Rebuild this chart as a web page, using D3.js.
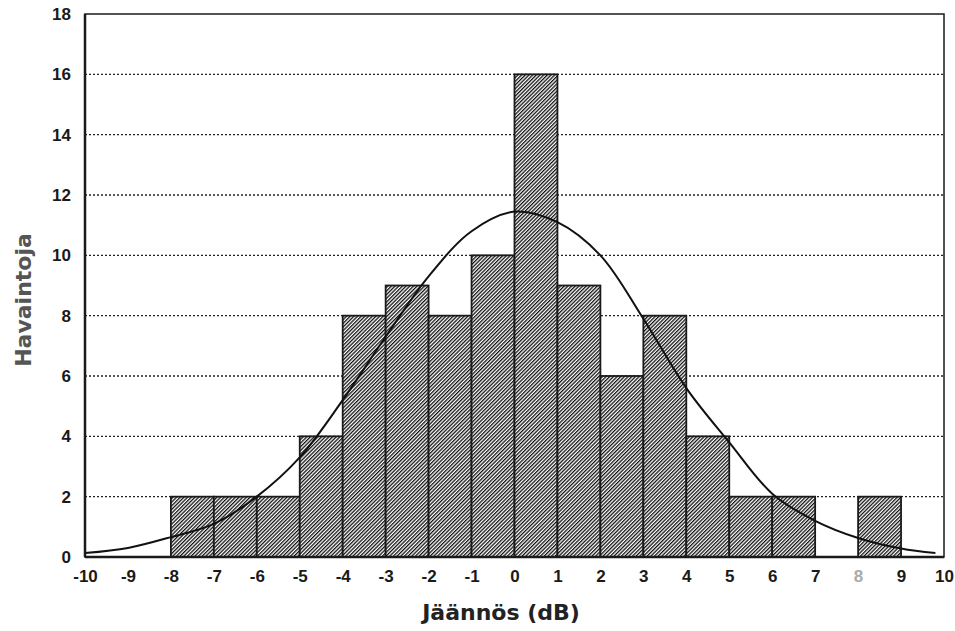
<!DOCTYPE html>
<html>
<head>
<meta charset="utf-8">
<script src="https://cdn.jsdelivr.net/npm/d3@7"></script>
<style>
  body { margin: 0; background: #fff; }
  text { font-family: "Liberation Sans", Arial, sans-serif; font-weight: bold; }
</style>
</head>
<body>
<div id="chart"></div>
<script>
// histogram bins (left edge), counts
const binStarts = [-8, -7, -6, -5, -4, -3, -2, -1, 0, 1, 2, 3, 4, 5, 6, 7, 8];
const counts = [2, 2, 2, 4, 8, 9, 8, 10, 16, 9, 6, 8, 4, 2, 2, 0, 2];

// fitted curve
const curveX = [-10, -9, -8, -7, -6, -5, -4, -3, -2, -1, 0, 1, 2, 3, 4, 5, 6, 7, 8, 9, 9.8];
const curveY = [0.13, 0.3, 0.66, 1.1, 2.0, 3.3, 5.2, 7.3, 9.3, 10.8, 11.45, 11.1, 10.0, 7.9, 5.6, 3.8, 2.1, 1.2, 0.63, 0.28, 0.13];

const xTicks = d3.range(-10, 11);
const yTicks = [0, 2, 4, 6, 8, 10, 12, 14, 16, 18];

const width = 955, height = 631;
const marginLeft = 85, marginRight = 11, marginTop = 14, marginBottom = 74;

const x = d3.scaleLinear().domain([-10, 10]).range([marginLeft, width - marginRight]);
const y = d3.scaleLinear().domain([0, 18]).range([height - marginBottom, marginTop]);

const svg = d3.select("#chart").append("svg")
  .attr("width", width)
  .attr("height", height);

// hatch pattern
const hs = 2.6;
const pat = svg.append("defs").append("pattern")
  .attr("id", "hatch")
  .attr("patternUnits", "userSpaceOnUse")
  .attr("width", hs)
  .attr("height", hs)
  .attr("patternTransform", "rotate(45)");
pat.append("rect").attr("width", hs).attr("height", hs).attr("fill", "#fff");
pat.append("line")
  .attr("x1", 0).attr("y1", 0).attr("x2", 0).attr("y2", hs)
  .attr("stroke", "#111").attr("stroke-width", 2.6);

// dotted grid
svg.append("g")
  .selectAll("line")
  .data(yTicks.filter(d => d > 0 && d < 18))
  .join("line")
  .attr("x1", x(-10)).attr("x2", x(10))
  .attr("y1", d => y(d)).attr("y2", d => y(d))
  .attr("stroke", "#222")
  .attr("stroke-width", 1.4)
  .attr("stroke-dasharray", "2,2");

// bars
svg.append("g")
  .selectAll("rect")
  .data(binStarts.map((s, i) => ({ s, c: counts[i] })).filter(d => d.c > 0))
  .join("rect")
  .attr("x", d => x(d.s))
  .attr("width", d => x(d.s + 1) - x(d.s))
  .attr("y", d => y(d.c))
  .attr("height", d => y(0) - y(d.c))
  .attr("fill", "url(#hatch)")
  .attr("stroke", "#1a1a1a")
  .attr("stroke-width", 1.8);

// fitted curve
svg.append("path")
  .datum(curveX.map((v, i) => [v, curveY[i]]))
  .attr("fill", "none")
  .attr("stroke", "#111")
  .attr("stroke-width", 2)
  .attr("d", d3.line().curve(d3.curveCatmullRom).x(d => x(d[0])).y(d => y(d[1])));

// frame
svg.append("rect")
  .attr("x", x(-10)).attr("y", y(18))
  .attr("width", x(10) - x(-10)).attr("height", y(0) - y(18))
  .attr("fill", "none")
  .attr("stroke", "#1a1a1a")
  .attr("stroke-width", 1.5);
svg.append("line")
  .attr("x1", x(-10)).attr("x2", x(-10)).attr("y1", y(18)).attr("y2", y(0))
  .attr("stroke", "#1a1a1a").attr("stroke-width", 2.5);
svg.append("line")
  .attr("x1", x(-10)).attr("x2", x(10)).attr("y1", y(0)).attr("y2", y(0))
  .attr("stroke", "#1a1a1a").attr("stroke-width", 2.5);

// axes
svg.append("g")
  .attr("transform", `translate(0,${y(0)})`)
  .call(d3.axisBottom(x).tickValues(xTicks).tickSize(0).tickPadding(13).tickFormat(d => String(d)))
  .call(g => g.select(".domain").remove())
  .selectAll("text")
  .attr("font-size", 17)
  .attr("fill", d => d === 8 ? "#aaa" : "#1a1a1a");

svg.append("g")
  .attr("transform", `translate(${x(-10)},0)`)
  .call(d3.axisLeft(y).tickValues(yTicks).tickSize(0).tickPadding(14).tickFormat(d => String(d)))
  .call(g => g.select(".domain").remove())
  .selectAll("text")
  .attr("font-size", 17)
  .attr("fill", "#1a1a1a");

svg.selectAll(".tick text").style("font-family", "'Liberation Sans', Arial, sans-serif").style("font-weight", "bold");

// titles
svg.append("text")
  .attr("x", 501)
  .attr("y", 620)
  .attr("text-anchor", "middle")
  .attr("font-size", 22)
  .style("font-family", "'DejaVu Sans', sans-serif")
  .attr("fill", "#222")
  .text("Jäännös (dB)");

svg.append("text")
  .attr("transform", `translate(31,300) rotate(-90)`)
  .attr("text-anchor", "middle")
  .attr("font-size", 22)
  .style("font-family", "'DejaVu Sans', sans-serif")
  .attr("fill", "#555")
  .text("Havaintoja");
</script>
</body>
</html>
